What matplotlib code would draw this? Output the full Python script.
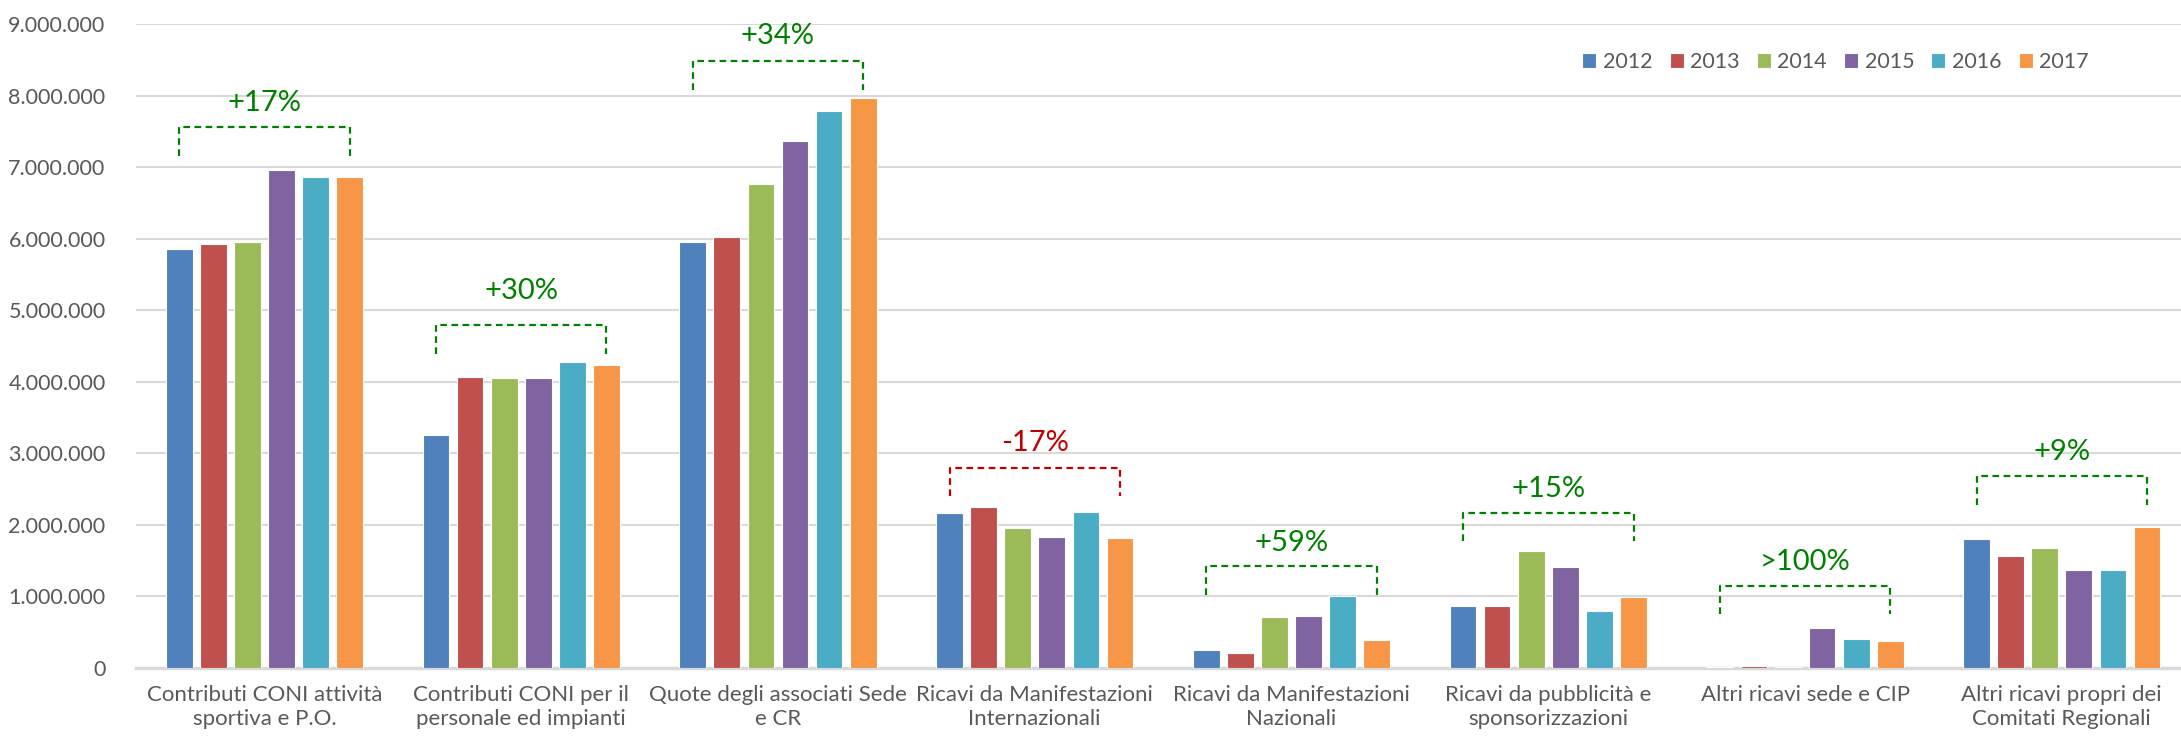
import matplotlib
matplotlib.use('Agg')
from matplotlib import pyplot as plt
from matplotlib.ticker import FuncFormatter
import numpy as np

plt.rcParams['font.family'] = ['Lato', 'DejaVu Sans']

categorie = ['Contributi CONI attività\nsportiva e P.O.',
             'Contributi CONI per il\npersonale ed impianti',
             'Quote degli associati Sede\ne CR',
             'Ricavi da Manifestazioni\nInternazionali',
             'Ricavi da Manifestazioni\nNazionali',
             'Ricavi da pubblicità e\nsponsorizzazioni',
             'Altri ricavi sede e CIP',
             'Altri ricavi propri dei\nComitati Regionali']
anni = ['2012', '2013', '2014', '2015', '2016', '2017']
colori = ['#4F81BD', '#C0504D', '#9BBB59', '#8064A2', '#4BACC6', '#F79646']

v2012 = [5860000, 3250000, 5954000, 2170000, 245000, 860000, 20000, 1800000]
v2013 = [5920000, 4070000, 6024000, 2245000, 205000, 870000, 34000, 1565000]
v2014 = [5955000, 4046000, 6760000, 1960000, 710000, 1640000, 10000, 1680000]
v2015 = [6957000, 4056000, 7370000, 1830000, 726000, 1415000, 560000, 1370000]
v2016 = [6865000, 4274000, 7780000, 2180000, 1005000, 800000, 410000, 1370000]
v2017 = [6860000, 4238000, 7970000, 1810000, 390000, 990000, 380000, 1965000]
serie = [v2012, v2013, v2014, v2015, v2016, v2017]

# variazione 2012-2017 con parentesi tratteggiata
variazioni = ['+17%', '+30%', '+34%', '-17%', '+59%', '+15%', '>100%', '+9%']
quota_parentesi = [7560000, 4790000, 8480000, 2800000, 1425000, 2170000, 1150000, 2680000]
quota_testo = [7900000, 5270000, 8830000, 3140000, 1750000, 2500000, 1480000, 3020000]

fig = plt.figure(figsize=(21.81, 7.40), dpi=100)
ax = fig.add_axes([0.0624, 0.0973, 0.9418, 0.8703])

x = np.arange(len(categorie))
passo = 0.1328
larg = 0.104
for i, valori in enumerate(serie):
    ax.bar(x + (i - 2.5) * passo, valori, larg, color=colori[i],
           edgecolor='white', linewidth=0.8, label=anni[i], zorder=3)

for k in range(len(categorie)):
    colore = '#C00000' if variazioni[k].startswith('-') else '#008000'
    x0 = x[k] - 2.5 * passo
    x1 = x[k] + 2.5 * passo
    top = quota_parentesi[k]
    ax.plot([x0, x0, x1, x1], [top - 400000, top, top, top - 400000],
            color=colore, lw=1.6, ls=(0, (3, 2)), zorder=4, clip_on=False)
    ax.text(x[k], quota_testo[k], variazioni[k], color=colore,
            fontsize=21, ha='center', va='center')

ax.set_xlim(-0.5, 7.5)
ax.set_ylim(0, 9000000)
ax.set_yticks(np.arange(0, 9000001, 1000000))
ax.yaxis.set_major_formatter(FuncFormatter(lambda v, p: f'{v:,.0f}'.replace(',', '.')))
ax.set_xticks(x)
ax.set_xticklabels(categorie, linespacing=1.25)

ax.tick_params(axis='y', length=0, labelsize=15.5, labelcolor='#595959', pad=22)
ax.tick_params(axis='x', length=0, labelsize=16, labelcolor='#595959', pad=12)
ax.yaxis.grid(True, color='#D9D9D9', lw=1.5)
ax.set_axisbelow(True)
for s in ['top', 'right', 'left']:
    ax.spines[s].set_visible(False)
ax.spines['bottom'].set_color('#D9D9D9')
ax.spines['bottom'].set_linewidth(2.5)

ax.legend(ncol=6, frameon=False, loc='center', bbox_to_anchor=(0.8416, 0.916),
          bbox_transform=fig.transFigure, fontsize=15.5, handlelength=0.65,
          handleheight=0.65, handletextpad=0.3, columnspacing=0.8,
          labelcolor='#595959')

plt.savefig('out.png', dpi=100)
